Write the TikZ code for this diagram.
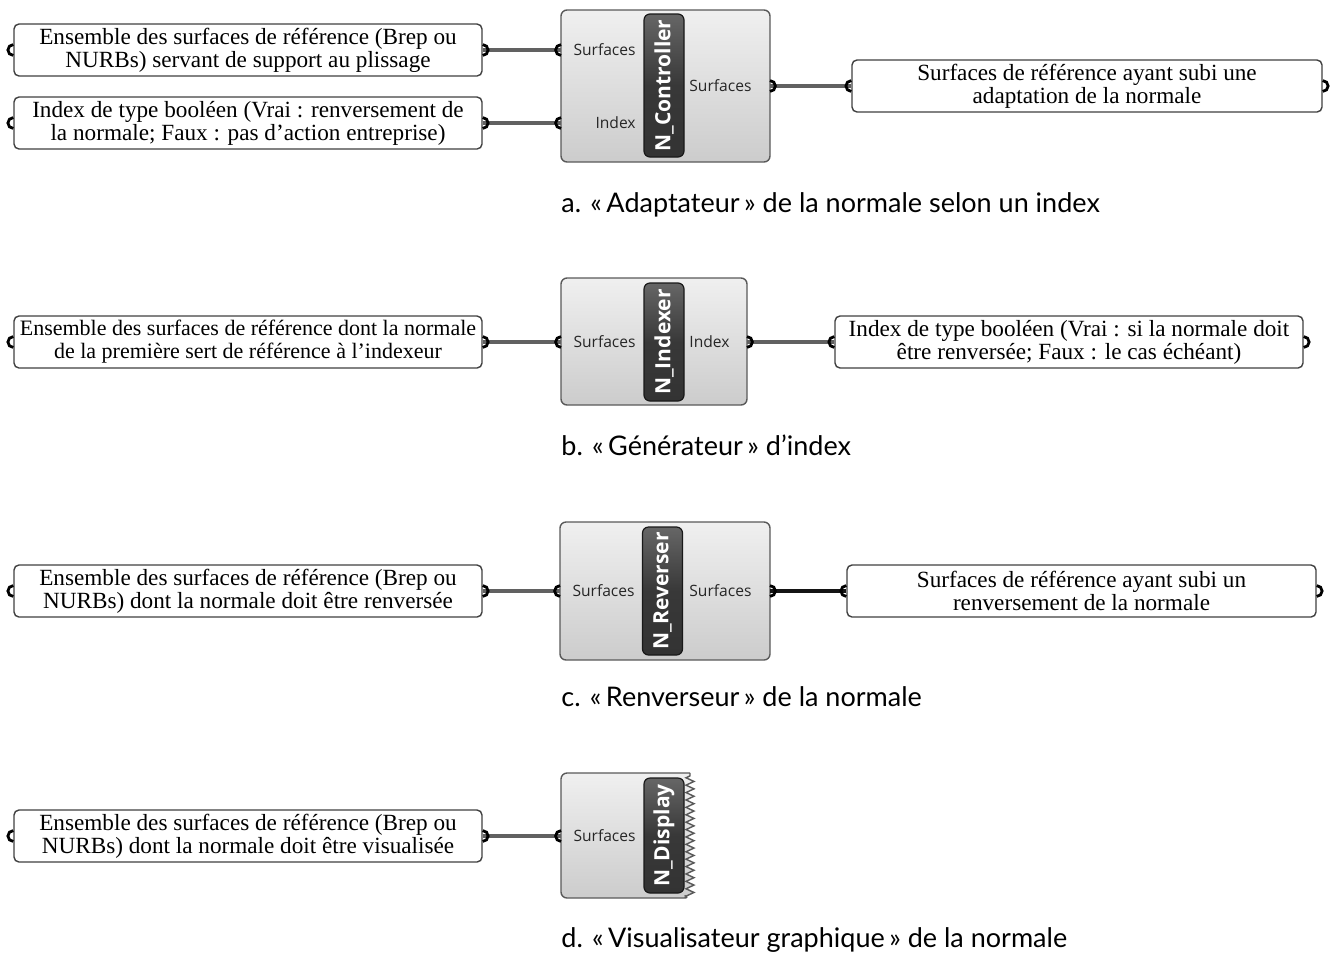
\documentclass[tikz,border=0pt]{standalone}
\usepackage{fontspec}
\setmainfont{Liberation Serif}
\newfontfamily\uifont{Open Sans}
\newfontfamily\capfont{Lato}
\usetikzlibrary{positioning,calc,decorations.pathmorphing}

\tikzset{
  textbox/.style={draw=black!75, line width=0.7pt, rounded corners=2.5pt, fill=white,
    minimum width=234pt, minimum height=26pt, inner sep=0pt, align=center,
    font=\fontsize{11.6}{11.5}\selectfont},
  compbox/.style={draw=black!65, line width=0.7pt, top color=black!6, bottom color=black!20},
  stripbox/.style={draw=black!90, line width=0.6pt, rounded corners=3pt, top color=black!60,
    bottom color=black!80, middle color=black!78, minimum width=20pt, inner sep=0pt},
  striplabel/.style={text=white, rotate=90, inner sep=0pt, font=\uifont\bfseries\fontsize{10.5}{10.5}\selectfont},
  portlabel/.style={text=black!85, inner sep=0pt, font=\uifont\fontsize{7.8}{7.8}\selectfont},
  port/.style={line width=1.4pt, draw=black},
  wire/.style={line width=2pt, draw=black!62},
  caption/.style={anchor=base west, inner sep=0pt, font=\capfont\fontsize{13.5}{13.5}\selectfont},
}
\newcommand{\portin}[1]{\draw[port] ($(#1)+(0,2.7pt)$) arc[start angle=90, end angle=270, radius=2.7pt];}
\newcommand{\portout}[1]{\draw[port] ($(#1)+(0,2.7pt)$) arc[start angle=90, end angle=-90, radius=2.7pt];}

\begin{document}
\begin{tikzpicture}[x=0.5pt, y=-0.5pt]
  \useasboundingbox (0,0) rectangle (1337,954);

  % a. adaptateur
  \node[textbox] (surfA) at (248,50) {Ensemble des surfaces de référence (Brep ou\\NURBs) servant de support au plissage};
  \node[textbox] (idxA) at (248,123) {Index de type booléen (Vrai : renversement de\\la normale; Faux : pas d’action entreprise)};
  \node[compbox, rounded corners=3pt, minimum width=104.5pt, minimum height=76pt] (ctrl) at (665.5,86) {};
  \node[stripbox, minimum height=71.5pt] (ctrlS) at (664,85.5) {};
  \node[striplabel] at (ctrlS) {N\_Controller};
  \coordinate (ctrlIn1) at (561,50);
  \coordinate (ctrlIn2) at (561,123);
  \coordinate (ctrlOut) at (770,86);
  \node[portlabel, anchor=east] at (636,50) {Surfaces};
  \node[portlabel, anchor=east] at (636,123) {Index};
  \node[portlabel, anchor=west] at (689,86) {Surfaces};
  \node[textbox, minimum width=235pt] (resA) at (1087,86) {Surfaces de référence ayant subi une\\adaptation de la normale};
  \draw[wire] (surfA.east) -- (ctrlIn1);
  \draw[wire] (idxA.east) -- (ctrlIn2);
  \draw[wire] (ctrlOut) -- (resA.west);
  \node[caption] (capA) at (561,212) {a. «\thinspace Adaptateur\thinspace» de la normale selon un index};

  % b. generateur
  \node[textbox, font=\fontsize{11}{11.5}\selectfont] (surfB) at (248,342) {Ensemble des surfaces de référence dont la normale\\de la première sert de référence à l’indexeur};
  \node[compbox, rounded corners=3pt, minimum width=93pt, minimum height=63.5pt] (idxr) at (654,341.5) {};
  \node[stripbox, minimum height=59pt] (idxrS) at (664,342) {};
  \node[striplabel] at (idxrS) {N\_Indexer};
  \coordinate (idxrIn) at (561,342);
  \coordinate (idxrOut) at (747,342);
  \node[portlabel, anchor=east] at (636,342) {Surfaces};
  \node[portlabel, anchor=west] at (689,342) {Index};
  \node[textbox] (resB) at (1069,342) {Index de type booléen (Vrai : si la normale doit\\être renversée; Faux : le cas échéant)};
  \draw[wire] (surfB.east) -- (idxrIn);
  \draw[wire] (idxrOut) -- (resB.west);
  \node[caption] (capB) at (561,455) {b. «\thinspace Générateur\thinspace» d’index};

  % c. renverseur
  \node[textbox] (surfC) at (248,591) {Ensemble des surfaces de référence (Brep ou\\NURBs) dont la normale doit être renversée};
  \node[compbox, rounded corners=3pt, minimum width=105pt, minimum height=69pt] (rev) at (665,591) {};
  \node[stripbox, minimum height=64pt] (revS) at (662.5,591) {};
  \node[striplabel] at (revS) {N\_Reverser};
  \coordinate (revIn) at (560,591);
  \coordinate (revOut) at (770,591);
  \node[portlabel, anchor=east] at (635,591) {Surfaces};
  \node[portlabel, anchor=west] at (689,591) {Surfaces};
  \node[textbox, minimum width=234.5pt] (resC) at (1081.5,591) {Surfaces de référence ayant subi un\\renversement de la normale};
  \draw[wire] (surfC.east) -- (revIn);
  \draw[wire, draw=black!92, line width=2.2pt] (revOut) -- (resC.west);
  \node[caption] (capC) at (561,706) {c. «\thinspace Renverseur\thinspace» de la normale};

  % d. visualisateur
  \node[textbox] (surfD) at (248,836) {Ensemble des surfaces de référence (Brep ou\\NURBs) dont la normale doit être visualisée};
  \draw[compbox] (690,773) [rounded corners=3pt] -- (561,773) -- (561,898) -- (690,898) [sharp corners]
    decorate[decoration={zigzag, segment length=3.7pt, amplitude=2pt}] {-- (690,773)};
  \node[stripbox, minimum height=57.5pt] (dispS) at (664,835.5) {};
  \node[striplabel] at (dispS) {N\_Display};
  \coordinate (dispIn) at (561,836);
  \node[portlabel, anchor=east] at (636,836) {Surfaces};
  \draw[wire] (surfD.east) -- (dispIn);
  \node[caption] (capD) at (561,947) {d. «\thinspace Visualisateur graphique\thinspace» de la normale};

  % ports
  \foreach \p in {surfA.west, idxA.west, resA.west, ctrlIn1, ctrlIn2, surfB.west, resB.west, idxrIn,
                  surfC.west, resC.west, revIn, surfD.west, dispIn} \portin{\p};
  \foreach \p in {surfA.east, idxA.east, resA.east, ctrlOut, surfB.east, resB.east, idxrOut,
                  surfC.east, resC.east, revOut, surfD.east} \portout{\p};
\end{tikzpicture}
\end{document}
